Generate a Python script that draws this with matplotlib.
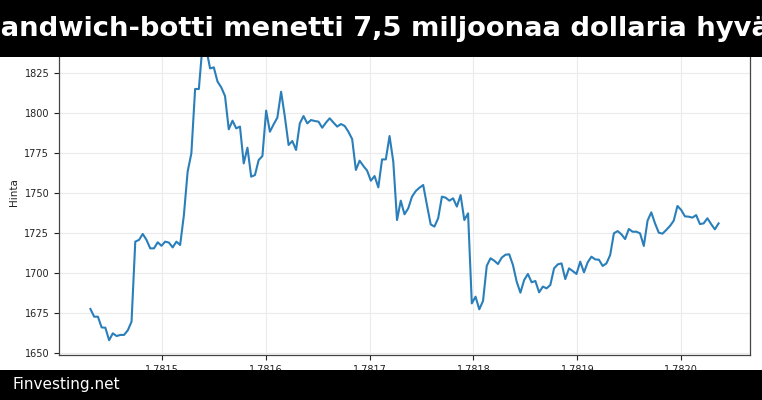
import matplotlib
matplotlib.use("Agg")
import matplotlib.pyplot as plt
from matplotlib.patches import Rectangle
import numpy as np

title = "Sandwich-botti menetti 7,5 miljoonaa dollaria hyvä"
footer = "Finvesting.net"
y_label = "Hinta"

start_ts = 1781431200  # unix seconds, hourly samples
step_s = 3600

prices = [
    1677.5, 1672.7, 1672.7, 1666.0, 1665.8, 1658.0, 1662.3, 1660.6, 1661.3, 1661.3,
    1664.2, 1669.6, 1719.6, 1720.7, 1724.4, 1720.7, 1715.4, 1715.4, 1719.2, 1717.0,
    1719.6, 1719.0, 1716.0, 1719.6, 1717.5, 1736.2, 1763.3, 1774.8, 1815.0, 1815.0,
    1843.0, 1840.0, 1827.9, 1828.5, 1819.6, 1816.0, 1810.6, 1789.8, 1795.2, 1790.4,
    1791.5, 1768.5, 1778.3, 1760.2, 1761.2, 1770.6, 1773.1, 1801.5, 1788.3, 1792.9,
    1797.1, 1813.3, 1797.7, 1780.0, 1782.5, 1776.9, 1793.5, 1798.1, 1793.5, 1795.6,
    1795.0, 1794.6, 1790.8, 1794.0, 1796.7, 1794.0, 1791.5, 1793.1, 1791.9, 1788.3,
    1783.7, 1764.4, 1770.2, 1766.9, 1764.0, 1757.7, 1760.6, 1753.5, 1771.0, 1771.0,
    1785.6, 1769.6, 1733.1, 1745.2, 1736.7, 1740.4, 1747.7, 1751.2, 1753.3, 1755.0,
    1742.5, 1730.4, 1729.0, 1734.2, 1747.7, 1747.1, 1745.2, 1746.7, 1741.5, 1748.7,
    1733.1, 1737.3, 1681.0, 1685.2, 1677.3, 1682.5, 1704.5, 1709.2, 1707.7, 1705.6,
    1709.6, 1711.4, 1711.7, 1705.0, 1694.6, 1687.7, 1695.6, 1699.4, 1694.2, 1695.0,
    1687.9, 1691.5, 1690.4, 1692.5, 1702.9, 1705.4, 1706.0, 1696.2, 1702.9, 1701.2,
    1699.4, 1707.1, 1700.4, 1706.7, 1710.2, 1708.5, 1708.3, 1704.4, 1706.0, 1711.2,
    1724.8, 1726.2, 1724.2, 1721.2, 1727.5, 1725.8, 1725.8, 1724.8, 1716.9, 1732.7,
    1737.9, 1731.0, 1725.2, 1724.6, 1726.9, 1729.4, 1732.7, 1741.9, 1739.4, 1735.4,
    1735.2, 1734.6, 1736.2, 1730.6, 1731.0, 1734.2, 1730.6, 1727.3, 1731.0,
]
y_ticks = [1650, 1675, 1700, 1725, 1750, 1775, 1800, 1825]

times = start_ts + step_s * np.arange(len(prices))

W, H = 762, 400
fig = plt.figure(figsize=(W / 100, H / 100), dpi=100)
ax = fig.add_axes([59 / W, 45 / H, (750 - 59) / W, (355 - 29) / H])

ax.plot(times, prices, color="#2a7fba", linewidth=1.5)
ax.set_ylim(1648.75, 1852.5)
ax.set_yticks(y_ticks)
ax.grid(True, color="#ebebeb", linewidth=0.8)
ax.set_axisbelow(True)
ax.tick_params(labelsize=7, length=3.5, width=0.8, colors="#222222")
for s in ax.spines.values():
    s.set_color("#444444")
    s.set_linewidth(0.9)
ax.set_ylabel(y_label, fontsize=7.5, color="#222222")

# top banner
fig.add_artist(Rectangle((0, 1 - 57 / H), 1, 57 / H, transform=fig.transFigure,
                         facecolor="black", edgecolor="none", zorder=10))
fig.text(0.5 - 6 / W, 1 - 29 / H, title, ha="center", va="center", color="white",
         fontsize=19.7, fontweight="bold", zorder=11)

# bottom banner
fig.add_artist(Rectangle((0, 0), 1, 30 / H, transform=fig.transFigure,
                         facecolor="black", edgecolor="none", zorder=10))
fig.text(12 / W, 15 / H, footer, ha="left", va="center", color="white",
         fontsize=11, zorder=11)

fig.savefig("out.png", dpi=100)
